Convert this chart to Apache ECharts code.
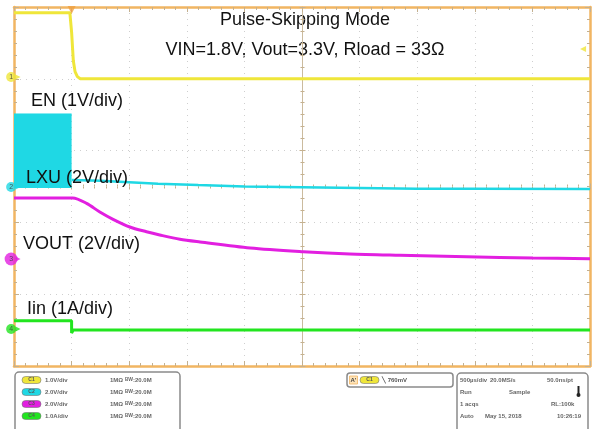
<!DOCTYPE html>
<html><head><meta charset="utf-8">
<script src="https://cdn.jsdelivr.net/npm/echarts@6/dist/echarts.min.js"></script>
<style>html,body{margin:0;padding:0;background:#fff}#c{width:594px;height:429px}</style>
</head><body><div id="c"></div>
<script>
// Horizontal: divisions (500 µs/div), vertical: divisions of the screen
const enX = [0, 0.97, 1.0, 1.03, 1.06, 1.1, 1.15, 10];
const enY = [4.92, 4.92, 4.65, 4.25, 4.10, 4.03, 4.0, 4.0];

const lxuBlockX = [0, 1.0];
const lxuBlockTop = [3.51, 3.51];
const lxuBlockBase = 2.48;
const lxuX = [1.0, 1.5, 2.0, 2.5, 3.2, 4, 5, 6, 7, 8, 10];
const lxuY = [2.59, 2.58, 2.56, 2.54, 2.52, 2.50, 2.49, 2.48, 2.47, 2.47, 2.465];

const voutX = [0, 1.0, 1.02, 1.26, 1.49, 1.72, 2.01, 2.30, 2.53, 2.88, 3.23, 4.1, 5.02, 5.83, 6.7, 7.86, 9.01, 10];
const voutY = [2.34, 2.34, 2.34, 2.265, 2.145, 2.043, 1.936, 1.87, 1.825, 1.765, 1.727, 1.643, 1.592, 1.56, 1.542, 1.522, 1.504, 1.494];

const iinX = [0, 1.0, 1.0, 1.03, 10];
const iinY = [0.63, 0.63, 0.46, 0.50, 0.50];

const markerLabels = ['1', '2', '3', '4'];
const markerY = [4.025, 2.493, 1.49, 0.515];

const titleLines = ['Pulse-Skipping Mode', 'VIN=1.8V, Vout=3.3V, Rload = 33Ω'];
const channelLabels = ['EN (1V/div)', 'LXU (2V/div)', 'VOUT (2V/div)', 'Iin (1A/div)'];
const chScales = ['1.0V/div', '2.0V/div', '2.0V/div', '1.0A/div'];

const YEL = '#efe63a', CYA = '#1fd8e4', MAG = '#e21fe0', GRN = '#22e51f';
const ORANGE = '#f1b562', TAN = '#c4b08f';
const chColors = [YEL, CYA, MAG, GRN];
const FONT = 'Liberation Sans, Arial, sans-serif';

const zip = (xs, ys) => xs.map((x, i) => [x, ys[i]]);

function baseX(pos, extra) {
  return Object.assign({
    type: 'value', min: 0, max: 10, interval: 1, position: pos,
    axisLine: { show: true, onZero: false, lineStyle: { color: ORANGE, width: 2.5 } },
    axisTick: { show: true, inside: true, length: 5, lineStyle: { color: TAN, width: 1 } },
    minorTick: { show: true, splitNumber: 5, length: 3, lineStyle: { color: TAN, width: 1 } },
    axisLabel: { show: false }, splitLine: { show: false }
  }, extra || {});
}
function baseY(pos, extra) {
  return Object.assign({
    type: 'value', min: 0, max: 5, interval: 1, position: pos,
    axisLine: { show: true, onZero: false, lineStyle: { color: ORANGE, width: 2.5 } },
    axisTick: { show: true, inside: true, length: 5, lineStyle: { color: TAN, width: 1 } },
    minorTick: { show: true, splitNumber: 6, length: 3, lineStyle: { color: TAN, width: 1 } },
    axisLabel: { show: false }, splitLine: { show: false }
  }, extra || {});
}
const centerLine = { show: true, onZero: false, lineStyle: { color: '#cbbb9e', width: 1 } };
const dotted = { show: true, lineStyle: { color: '#cfcfcf', width: 1, type: [1, 5] } };

const chart = echarts.init(document.getElementById('c'), null, { renderer: 'canvas' });

const markerSeries = {
  type: 'scatter', clip: false, silent: true, z: 10,
  data: markerY.map((y, i) => ({
    value: [-0.05, y],
    symbolSize: i === 2 ? 13 : 10,
    itemStyle: { color: chColors[i] },
    label: { show: true, formatter: markerLabels[i], fontSize: 7, color: '#333', fontFamily: FONT }
  }))
};
const arrowSeries = {
  type: 'scatter', clip: false, silent: true, z: 10, symbol: 'triangle', symbolRotate: -90, symbolSize: 5,
  data: markerY.map((y, i) => ({ value: [0.07, y], itemStyle: { color: chColors[i] } }))
};

const smallTxt = (x, y, t, extra) => ({
  type: 'text', x: x, y: y,
  style: Object.assign({ text: t, fill: '#666', font: 'bold 6px ' + FONT, verticalAlign: 'middle' }, extra || {})
});
const oval = (x, y, c, t) => ({
  type: 'group', children: [
    { type: 'rect', shape: { x: x, y: y - 3.5, width: 19, height: 7, r: 3.5 }, style: { fill: c, stroke: '#777', lineWidth: 0.6 } },
    { type: 'text', x: x + 9.5, y: y, style: { text: t, fill: '#555', font: 'bold 5px ' + FONT, align: 'center', verticalAlign: 'middle' } }
  ]
});

const rowsY = [380, 392, 404, 416];
const graphics = [];
graphics.push({ type: 'text', x: 305, y: 20, style: { text: titleLines[0], font: '18px ' + FONT, fill: '#111', align: 'center', verticalAlign: 'middle' } });
graphics.push({ type: 'text', x: 305, y: 50, style: { text: titleLines[1], font: '18px ' + FONT, fill: '#111', align: 'center', verticalAlign: 'middle' } });
const lblPos = [[31, 101], [26, 178], [23, 244], [27, 309]];
channelLabels.forEach((t, i) => graphics.push({ type: 'text', x: lblPos[i][0], y: lblPos[i][1], z: 20, style: { text: t, font: '18px ' + FONT, fill: '#111', verticalAlign: 'middle' } }));
graphics.push({ type: 'rect', shape: { x: 15, y: 372, width: 165, height: 62, r: 4 }, style: { fill: '#fff', stroke: '#8a8a8a', lineWidth: 1.5 } });
rowsY.forEach((y, i) => {
  graphics.push(oval(22, y, chColors[i], 'C' + (i + 1)));
  graphics.push(smallTxt(45, y, chScales[i]));
  graphics.push(smallTxt(110, y, '1MΩ'));
  graphics.push({ type: 'text', x: 125, y: y, style: { text: '{s|B}{w|W}:20.0M', verticalAlign: 'middle', fill: '#666', font: 'bold 6px ' + FONT,
    rich: { s: { fontSize: 4.5, fontWeight: 'bold', fill: '#666', verticalAlign: 'top', fontFamily: FONT }, w: { fontSize: 5, fontWeight: 'bold', fill: '#666', fontFamily: FONT } } } });
});
graphics.push({ type: 'rect', shape: { x: 347, y: 373, width: 106, height: 14, r: 3 }, style: { fill: '#fff', stroke: '#8a8a8a', lineWidth: 1.5 } });
graphics.push({ type: 'rect', shape: { x: 349.5, y: 376, width: 8, height: 8 }, style: { fill: '#fde3b8', stroke: ORANGE, lineWidth: 0.8 } });
graphics.push(smallTxt(350.5, 380, "A'", { fill: '#444' }));
graphics.push(oval(360, 380, YEL, 'C1'));
graphics.push(smallTxt(382, 380, '\u2572 760mV', { fill: '#555' }));
graphics.push({ type: 'rect', shape: { x: 457, y: 373, width: 131, height: 62, r: 4 }, style: { fill: '#fff', stroke: '#8a8a8a', lineWidth: 1.5 } });
graphics.push(smallTxt(460, 380, '500µs/div'));
graphics.push(smallTxt(490, 380, '20.0MS/s'));
graphics.push(smallTxt(547, 380, '50.0ns/pt'));
graphics.push(smallTxt(460, 392, 'Run'));
graphics.push(smallTxt(509, 392, 'Sample'));
graphics.push({ type: 'rect', shape: { x: 577.5, y: 386, width: 2, height: 8 }, style: { fill: '#222' } });
graphics.push({ type: 'circle', shape: { cx: 578.5, cy: 395, r: 2 }, style: { fill: '#222' } });
graphics.push(smallTxt(460, 404, '1 acqs'));
graphics.push(smallTxt(551, 404, 'RL:100k'));
graphics.push(smallTxt(460, 416, 'Auto'));
graphics.push(smallTxt(485, 416, 'May 15, 2018'));
graphics.push(smallTxt(557, 416, '10:26:19'));

const option = {
  animation: false,
  backgroundColor: '#fff',
  grid: { left: 14, right: 4, top: 7, bottom: 63, containLabel: false },
  xAxis: [
    baseX('bottom', { splitLine: dotted }),
    baseX('top'),
    baseX('bottom', { offset: -179.5, axisLine: { show: false }, axisTick: { show: true, inside: true, length: 3, lineStyle: { color: TAN } }, minorTick: { show: true, splitNumber: 5, length: 2, lineStyle: { color: TAN } } }),
    baseX('bottom', { offset: -179.5, axisLine: { show: false }, axisTick: { show: true, inside: false, length: 3, lineStyle: { color: TAN } }, minorTick: { show: true, splitNumber: 5, length: 2, lineStyle: { color: TAN } } })
  ],
  yAxis: [
    baseY('left', { splitLine: dotted }),
    baseY('right'),
    baseY('left', { offset: -288.5, axisLine: centerLine, axisTick: { show: true, inside: true, length: 3, lineStyle: { color: TAN } }, minorTick: { show: true, splitNumber: 6, length: 2, lineStyle: { color: TAN } } }),
    baseY('left', { offset: -288.5, axisLine: { show: false }, axisTick: { show: true, inside: false, length: 3, lineStyle: { color: TAN } }, minorTick: { show: true, splitNumber: 6, length: 2, lineStyle: { color: TAN } } })
  ],
  graphic: graphics,
  series: [
    { name: 'LXU block', type: 'line', data: zip(lxuBlockX, lxuBlockTop), symbol: 'none', silent: true,
      lineStyle: { color: CYA, width: 1 }, areaStyle: { color: CYA, opacity: 1, origin: lxuBlockBase }, z: 3 },
    { name: 'EN', type: 'line', data: zip(enX, enY), symbol: 'none', lineStyle: { color: YEL, width: 3 }, z: 4 },
    { name: 'LXU', type: 'line', data: zip(lxuX, lxuY), symbol: 'none', lineStyle: { color: CYA, width: 2.5 }, z: 4 },
    { name: 'VOUT', type: 'line', data: zip(voutX, voutY), symbol: 'none', smooth: 0.3, lineStyle: { color: MAG, width: 3 }, z: 4 },
    { name: 'Iin', type: 'line', data: zip(iinX, iinY), symbol: 'none', lineStyle: { color: GRN, width: 3 }, z: 4 },
    markerSeries, arrowSeries,
    { type: 'scatter', clip: false, silent: true, z: 10, symbol: 'triangle', symbolRotate: 180, symbolSize: 8, symbolOffset: [0, 3],
      data: [[1.0, 5]], itemStyle: { color: '#f0a040' } },
    { type: 'scatter', clip: false, silent: true, z: 10, symbol: 'triangle', symbolRotate: 90, symbolSize: 6,
      data: [[9.88, 4.415]], itemStyle: { color: YEL } }
  ]
};
chart.setOption(option);
</script></body></html>
